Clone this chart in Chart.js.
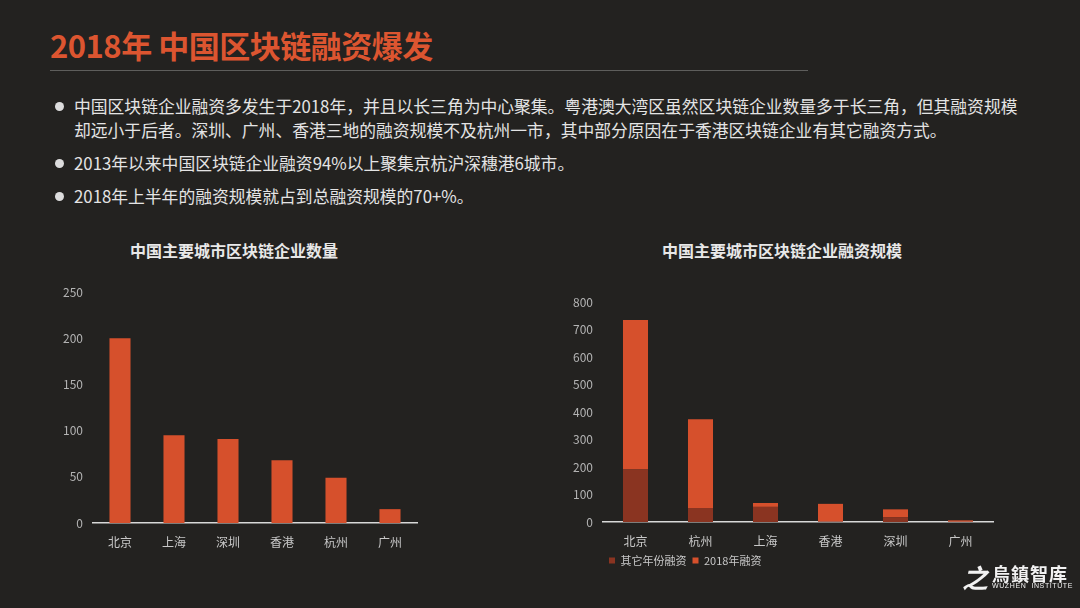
<!DOCTYPE html>
<html>
<head>
<meta charset="utf-8">
<script src="https://cdn.jsdelivr.net/npm/chart.js@4"></script>
<style>
  html, body { margin: 0; padding: 0; }
  body {
    width: 1080px; height: 608px; overflow: hidden; position: relative;
    background: #232220; font-family: "Noto Sans CJK SC", "Noto Sans", sans-serif;
  }
  .title { position: absolute; left: 50px; top: 22px; font-size: 31px; font-weight: bold; color: #dc5530; white-space: nowrap; letter-spacing: -0.5px; }
  .rule { position: absolute; left: 50px; top: 70px; width: 758px; height: 1px; background: #5e5e5c; }
  .bullets { position: absolute; left: 74px; top: 94px; color: #e4e4e4; font-size: 16.8px; line-height: 24px; white-space: nowrap; }
  .bullets p { margin: 0 0 9px 0; position: relative; }
  .bullets p::before { content: ""; position: absolute; left: -19px; top: 8px; width: 9px; height: 9px; border-radius: 50%; background: #dcdcdc; }
  .ctitle { position: absolute; top: 238px; font-size: 16px; font-weight: bold; color: #e8e8e8; transform: translateX(-50%); white-space: nowrap; }
  canvas { position: absolute; }
  .logo { position: absolute; left: 962px; top: 560px; color: #f2f2f2; white-space: nowrap; }
  .logo .mark { position: absolute; left: 0; top: -2px; font-size: 26px; font-style: italic; font-weight: bold; }
  .logo .cn { position: absolute; left: 30px; top: 0; font-size: 18px; font-weight: bold; letter-spacing: 1px; }
  .logo .en { position: absolute; left: 30px; top: 22px; font-size: 7px; letter-spacing: 0.6px; font-family: "Liberation Sans", sans-serif; }
</style>
</head>
<body>
<div class="title">2018年 中国区块链融资爆发</div>
<div class="rule"></div>
<div class="bullets">
  <p>中国区块链企业融资多发生于2018年，并且以长三角为中心聚集。粤港澳大湾区虽然区块链企业数量多于长三角，但其融资规模<br>却远小于后者。深圳、广州、香港三地的融资规模不及杭州一市，其中部分原因在于香港区块链企业有其它融资方式。</p>
  <p>2013年以来中国区块链企业融资94%以上聚集京杭沪深穗港6城市。</p>
  <p>2018年上半年的融资规模就占到总融资规模的70+%。</p>
</div>
<div class="ctitle" style="left:234px">中国主要城市区块链企业数量</div>
<div class="ctitle" style="left:782px">中国主要城市区块链企业融资规模</div>
<canvas id="countChart" width="372" height="268" style="left:50px;top:282px"></canvas>
<canvas id="fundChart" width="440" height="284" style="left:560px;top:292px"></canvas>
<div class="logo"><span class="mark">之</span><span class="cn">烏鎮智库</span><span class="en">WUZHEN&nbsp;&nbsp;INSTITUTE</span></div>

<script>
// left chart: number of blockchain companies per city
const countCities = ["北京", "上海", "深圳", "香港", "杭州", "广州"];
const countValues = [200, 95, 91, 68, 49, 15];

// right chart: financing scale per city (stacked)
const fundCities = ["北京", "杭州", "上海", "香港", "深圳", "广州"];
const fundOtherYears = [191, 51, 55, 2, 18, 1];
const fund2018 = [544, 323, 14, 64, 28, 5];

const orange = "#d6502c";
const darkRed = "#8a3421";
const tickColor = "#b4b4b4";
const tickFont = { family: "Noto Sans CJK SC", size: 12 };

function makeScales(max, step) {
  return {
    x: {
      stacked: true,
      grid: { display: false },
      border: { display: true, color: "#d8d8d8", width: 1.5 },
      ticks: { color: "#c8c8c8", font: { family: "Noto Sans CJK SC", size: 12 }, padding: 4 },
      afterFit(axis) { axis.height = 27; },
    },
    y: {
      stacked: true,
      min: 0,
      max: max,
      grid: { display: false },
      border: { display: false },
      ticks: { stepSize: step, color: tickColor, font: tickFont, padding: 2 },
      afterFit(axis) { axis.width = 43; },
    },
  };
}

new Chart(document.getElementById("countChart"), {
  type: "bar",
  data: {
    labels: countCities,
    datasets: [
      { label: "数量", data: countValues, backgroundColor: orange, barPercentage: 0.39, categoryPercentage: 1 },
    ],
  },
  options: {
    responsive: false,
    animation: false,
    layout: { padding: { top: 10, right: 5 } },
    plugins: { legend: { display: false }, tooltip: { enabled: false } },
    scales: makeScales(250, 50),
  },
});

new Chart(document.getElementById("fundChart"), {
  type: "bar",
  data: {
    labels: fundCities,
    datasets: [
      { label: "其它年份融资", data: fundOtherYears, backgroundColor: darkRed, barPercentage: 0.385, categoryPercentage: 1 },
      { label: "2018年融资", data: fund2018, backgroundColor: orange, barPercentage: 0.385, categoryPercentage: 1 },
    ],
  },
  options: {
    responsive: false,
    animation: false,
    layout: { padding: { top: 10, right: 7 } },
    plugins: {
      tooltip: { enabled: false },
      legend: {
        position: "bottom",
        align: "start",
        fullSize: false,
        labels: {
          color: "#c8c8c8",
          font: { family: "Noto Sans CJK SC", size: 11 },
          boxWidth: 6,
          boxHeight: 6,
          padding: 6,
        },
      },
    },
    scales: makeScales(800, 100),
  },
});
</script>
</body>
</html>
